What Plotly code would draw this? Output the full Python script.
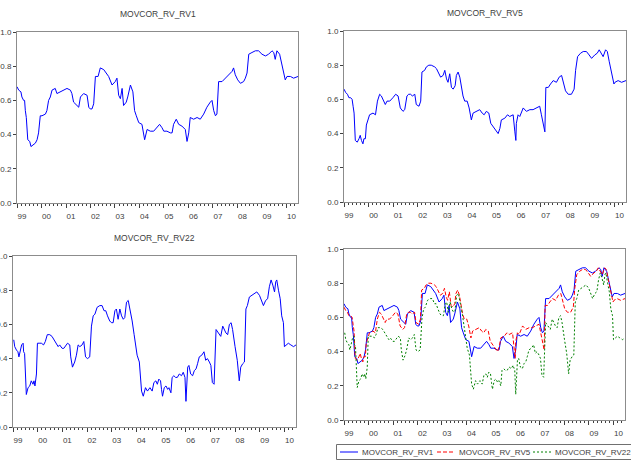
import plotly.graph_objects as go

# ---------------- data (decimal years, correlation values) ----------------
year_labels = ["99", "00", "01", "02", "03", "04", "05", "06", "07", "08", "09", "10"]
year_ticks = list(range(1999, 2011))

x_rv1 = [1999.00, 1999.07, 1999.16, 1999.20, 1999.27, 1999.31, 1999.34, 1999.38, 1999.44, 1999.52,
         1999.57, 1999.65, 1999.75, 1999.82, 1999.88, 1999.95, 2000.02, 2000.16, 2000.22, 2000.29,
         2000.36, 2000.43, 2000.56, 2000.63, 2000.77, 2000.90, 2001.04, 2001.18, 2001.24, 2001.31,
         2001.45, 2001.52, 2001.59, 2001.72, 2001.86, 2001.93, 2001.99, 2002.06, 2002.13, 2002.20,
         2002.31, 2002.40, 2002.54, 2002.67, 2002.74, 2002.88, 2003.01, 2003.08, 2003.15, 2003.22,
         2003.29, 2003.35, 2003.46, 2003.52, 2003.63, 2003.73, 2003.80, 2003.87, 2003.97, 2004.10,
         2004.17, 2004.21, 2004.31, 2004.44, 2004.58, 2004.71, 2004.82, 2004.92, 2004.99, 2005.12,
         2005.26, 2005.33, 2005.39, 2005.50, 2005.60, 2005.73, 2005.87, 2005.94, 2006.01, 2006.07,
         2006.21, 2006.35, 2006.48, 2006.62, 2006.75, 2006.89, 2006.96, 2007.03, 2007.10, 2007.16,
         2007.23, 2007.37, 2007.50, 2007.64, 2007.78, 2007.84, 2007.91, 2008.01, 2008.12, 2008.25,
         2008.32, 2008.39, 2008.46, 2008.59, 2008.73, 2008.86, 2009.00, 2009.14, 2009.27, 2009.41,
         2009.48, 2009.54, 2009.61, 2009.72, 2009.82, 2009.88, 2009.95, 2010.02, 2010.16, 2010.29,
         2010.47]
rv1 = [0.68, 0.66, 0.65, 0.62, 0.60, 0.60, 0.54, 0.50, 0.37, 0.36,
       0.33, 0.34, 0.35, 0.37, 0.41, 0.51, 0.51, 0.52, 0.54, 0.60,
       0.62, 0.66, 0.67, 0.64, 0.65, 0.66, 0.67, 0.66, 0.64, 0.59,
       0.57, 0.56, 0.62, 0.64, 0.63, 0.56, 0.55, 0.55, 0.58, 0.74,
       0.74, 0.79, 0.78, 0.75, 0.74, 0.69, 0.71, 0.73, 0.63, 0.61,
       0.67, 0.57, 0.59, 0.62, 0.69, 0.65, 0.54, 0.51, 0.47, 0.46,
       0.39, 0.37, 0.43, 0.42, 0.42, 0.44, 0.46, 0.44, 0.42, 0.42,
       0.41, 0.41, 0.46, 0.49, 0.46, 0.45, 0.43, 0.36, 0.41, 0.50,
       0.49, 0.50, 0.49, 0.52, 0.56, 0.59, 0.60, 0.54, 0.51, 0.52,
       0.71, 0.71, 0.73, 0.75, 0.77, 0.79, 0.75, 0.72, 0.70, 0.71,
       0.73, 0.76, 0.87, 0.88, 0.89, 0.89, 0.87, 0.86, 0.87, 0.89,
       0.88, 0.84, 0.89, 0.87, 0.81, 0.78, 0.72, 0.74, 0.74, 0.73,
       0.74]

x_rv5 = [1999.00, 1999.07, 1999.14, 1999.20, 1999.27, 1999.33, 1999.37, 1999.41, 1999.46, 1999.54,
         1999.61, 1999.66, 1999.71, 1999.77, 1999.81, 1999.87, 1999.91, 1999.98, 2000.04, 2000.18,
         2000.28, 2000.36, 2000.45, 2000.52, 2000.61, 2000.68, 2000.75, 2000.86, 2000.99, 2001.10,
         2001.20, 2001.29, 2001.40, 2001.47, 2001.56, 2001.63, 2001.71, 2001.78, 2001.88, 2001.94,
         2002.05, 2002.12, 2002.17, 2002.28, 2002.35, 2002.45, 2002.55, 2002.69, 2002.76, 2002.87,
         2002.93, 2003.03, 2003.10, 2003.17, 2003.23, 2003.30, 2003.37, 2003.44, 2003.52, 2003.57,
         2003.64, 2003.71, 2003.78, 2003.84, 2003.91, 2004.01, 2004.09, 2004.18, 2004.25, 2004.39,
         2004.52, 2004.62, 2004.70, 2004.79, 2004.89, 2004.97, 2005.07, 2005.17, 2005.27, 2005.34,
         2005.40, 2005.54, 2005.65, 2005.74, 2005.88, 2005.95, 2005.99, 2006.01, 2006.08, 2006.15,
         2006.29, 2006.42, 2006.56, 2006.69, 2006.83, 2006.96, 2007.03, 2007.10, 2007.17, 2007.21,
         2007.31, 2007.40, 2007.51, 2007.64, 2007.75, 2007.85, 2007.91, 2008.01, 2008.12, 2008.25,
         2008.36, 2008.42, 2008.50, 2008.62, 2008.73, 2008.86, 2008.97, 2009.07, 2009.20, 2009.30,
         2009.38, 2009.48, 2009.54, 2009.64, 2009.71, 2009.79, 2009.88, 2009.98, 2010.02, 2010.15,
         2010.29, 2010.47]
rv5 = [0.66, 0.64, 0.63, 0.61, 0.61, 0.60, 0.56, 0.52, 0.36, 0.35,
       0.37, 0.39, 0.36, 0.34, 0.37, 0.37, 0.45, 0.49, 0.51, 0.52,
       0.51, 0.59, 0.63, 0.62, 0.59, 0.57, 0.59, 0.59, 0.61, 0.63,
       0.62, 0.55, 0.53, 0.54, 0.62, 0.63, 0.63, 0.62, 0.63, 0.57,
       0.56, 0.59, 0.76, 0.77, 0.79, 0.80, 0.80, 0.79, 0.78, 0.74,
       0.73, 0.74, 0.77, 0.72, 0.70, 0.75, 0.67, 0.66, 0.68, 0.74,
       0.76, 0.73, 0.67, 0.62, 0.59, 0.59, 0.55, 0.48, 0.52, 0.53,
       0.54, 0.52, 0.51, 0.53, 0.52, 0.46, 0.44, 0.42, 0.40, 0.43,
       0.48, 0.49, 0.51, 0.50, 0.51, 0.41, 0.36, 0.46, 0.51, 0.50,
       0.55, 0.53, 0.54, 0.54, 0.55, 0.56, 0.51, 0.45, 0.41, 0.67,
       0.67, 0.69, 0.71, 0.70, 0.73, 0.74, 0.70, 0.65, 0.63, 0.63,
       0.66, 0.77, 0.85, 0.87, 0.88, 0.88, 0.86, 0.84, 0.86, 0.87,
       0.89, 0.86, 0.85, 0.89, 0.88, 0.82, 0.76, 0.69, 0.70, 0.71,
       0.70, 0.71]

x_rv22 = [1999.03, 1999.07, 1999.14, 1999.20, 1999.24, 1999.30, 1999.35, 1999.41, 1999.43, 1999.47,
          1999.51, 1999.54, 1999.61, 1999.68, 1999.74, 1999.81, 1999.85, 1999.89, 1999.95, 1999.99,
          2000.06, 2000.15, 2000.24, 2000.31, 2000.39, 2000.49, 2000.58, 2000.66, 2000.73, 2000.83,
          2000.89, 2000.99, 2001.06, 2001.12, 2001.21, 2001.30, 2001.34, 2001.41, 2001.50, 2001.57,
          2001.64, 2001.71, 2001.80, 2001.87, 2001.94, 2002.02, 2002.11, 2002.18, 2002.25, 2002.32,
          2002.41, 2002.52, 2002.61, 2002.69, 2002.76, 2002.83, 2002.92, 2002.99, 2003.06, 2003.13,
          2003.19, 2003.26, 2003.33, 2003.40, 2003.47, 2003.53, 2003.60, 2003.67, 2003.74, 2003.78,
          2003.83, 2003.91, 2003.97, 2004.03, 2004.12, 2004.17, 2004.21, 2004.28, 2004.37, 2004.45,
          2004.55, 2004.64, 2004.71, 2004.79, 2004.85, 2004.91, 2004.98, 2005.02, 2005.06, 2005.13,
          2005.20, 2005.27, 2005.32, 2005.40, 2005.45, 2005.52, 2005.59, 2005.66, 2005.74, 2005.83,
          2005.90, 2005.97, 2006.01, 2006.08, 2006.13, 2006.20, 2006.28, 2006.35, 2006.42, 2006.48,
          2006.55, 2006.65, 2006.74, 2006.81, 2006.88, 2006.96, 2007.02, 2007.08, 2007.15, 2007.23,
          2007.32, 2007.42, 2007.50, 2007.57, 2007.63, 2007.70, 2007.77, 2007.84, 2007.90, 2008.00,
          2008.09, 2008.17, 2008.23, 2008.31, 2008.38, 2008.44, 2008.50, 2008.58, 2008.68, 2008.77,
          2008.88, 2008.99, 2009.08, 2009.15, 2009.24, 2009.32, 2009.39, 2009.46, 2009.53, 2009.60,
          2009.65, 2009.69, 2009.76, 2009.83, 2009.89, 2009.96, 2010.00, 2010.07, 2010.16, 2010.26,
          2010.37, 2010.47]
rv22 = [0.51, 0.47, 0.45, 0.44, 0.41, 0.44, 0.48, 0.49, 0.44, 0.43,
        0.20, 0.19, 0.23, 0.24, 0.27, 0.25, 0.27, 0.24, 0.31, 0.49,
        0.49, 0.49, 0.48, 0.50, 0.54, 0.54, 0.53, 0.51, 0.49, 0.47,
        0.48, 0.46, 0.46, 0.47, 0.49, 0.48, 0.41, 0.35, 0.38, 0.42,
        0.48, 0.47, 0.48, 0.50, 0.41, 0.40, 0.41, 0.59, 0.65, 0.66,
        0.70, 0.71, 0.71, 0.68, 0.68, 0.65, 0.62, 0.61, 0.61, 0.68,
        0.69, 0.63, 0.69, 0.65, 0.63, 0.64, 0.73, 0.74, 0.69, 0.67,
        0.62, 0.54, 0.47, 0.42, 0.38, 0.29, 0.21, 0.18, 0.23, 0.21,
        0.23, 0.21, 0.26, 0.27, 0.25, 0.28, 0.27, 0.22, 0.18, 0.23,
        0.24, 0.22, 0.23, 0.20, 0.29, 0.30, 0.29, 0.29, 0.31, 0.30,
        0.32, 0.29, 0.15, 0.35, 0.36, 0.31, 0.30, 0.33, 0.34, 0.37,
        0.41, 0.42, 0.44, 0.39, 0.40, 0.38, 0.36, 0.26, 0.25, 0.57,
        0.55, 0.53, 0.59, 0.57, 0.55, 0.54, 0.60, 0.61, 0.57, 0.47,
        0.39, 0.27, 0.35, 0.37, 0.38, 0.69, 0.71, 0.76, 0.77, 0.78,
        0.79, 0.77, 0.73, 0.71, 0.74, 0.75, 0.82, 0.86, 0.83, 0.79,
        0.85, 0.86, 0.80, 0.75, 0.65, 0.61, 0.47, 0.48, 0.49, 0.48,
        0.47, 0.48]

names = ["MOVCOR_RV_RV1", "MOVCOR_RV_RV5", "MOVCOR_RV_RV22"]
colors = ["#0000ff", "#ff0000", "#008000"]
dashes = ["solid", "4px,2px", "2px,2px"]

W, H = 631, 462
# panel pixel boxes: (left, right, top, bottom)
boxes = [(17, 298, 32, 203), (344, 626, 31, 202), (13, 296, 256, 427), (344, 625, 249, 420)]

fig = go.Figure()
FONT = "Liberation Sans, Arial, sans-serif"
TXT = "#404040"

series = [(x_rv1, rv1), (x_rv5, rv5), (x_rv22, rv22)]
# single panels
for i in range(3):
    xs, ys = series[i]
    fig.add_trace(go.Scatter(x=xs, y=ys, mode="lines", xaxis=f"x{i+1}", yaxis=f"y{i+1}",
                             line=dict(color=colors[0], width=1), showlegend=False, hoverinfo="skip"))
# combined panel
for i in range(3):
    xs, ys = series[i]
    fig.add_trace(go.Scatter(x=xs, y=ys, mode="lines", xaxis="x4", yaxis="y4", name=names[i],
                             line=dict(color=colors[i], width=1, dash=dashes[i]), showlegend=False,
                             hoverinfo="skip"))

# legend key (framed box under the combined panel), drawn on a pixel-space overlay axis
leg_left, leg_top, leg_bot = 336, 444, 459
key_x = [340, 437, 533]
key_len = 18
ymid = (leg_top + leg_bot) / 2 + 0.5
for i in range(3):
    fig.add_trace(go.Scatter(x=[key_x[i], key_x[i] + key_len], y=[ymid, ymid], mode="lines",
                             xaxis="x5", yaxis="y5", showlegend=False, hoverinfo="skip",
                             line=dict(color=colors[i], width=1, dash=dashes[i])))

axis_color = "#8c8c8c"
tick_font = dict(family=FONT, size=8, color=TXT)
layout = dict(
    width=W, height=H, margin=dict(l=0, r=0, t=0, b=0, autoexpand=False),
    paper_bgcolor="white", plot_bgcolor="rgba(0,0,0,0)", template="none",
    font=dict(family=FONT, size=8, color=TXT),
    showlegend=False,
    xaxis5=dict(domain=[0, 1], range=[0, W], visible=False, anchor="y5", fixedrange=True),
    yaxis5=dict(domain=[0, 1], range=[H, 0], visible=False, anchor="x5", fixedrange=True),
)
annotations = []
shapes = []
for i, (l, r, t, b) in enumerate(boxes):
    k = "" if i == 0 else str(i + 1)
    layout[f"xaxis{k}"] = dict(
        domain=[l / W, r / W], anchor=f"y{i+1}", range=[1999.0, 2010.47],
        tickmode="array", tickvals=year_ticks, ticktext=year_labels,
        ticks="outside", ticklen=4, tickcolor="#404040", tickwidth=1,
        ticklabelshift=5, tickfont=tick_font, ticklabelstandoff=1,
        minor=dict(dtick=1 / 6, tick0=1999, ticks="outside", ticklen=2, tickcolor="#404040"),
        showgrid=False, zeroline=False, showline=True, linecolor=axis_color, linewidth=1,
        mirror=True, automargin=False, fixedrange=True)
    layout[f"yaxis{k}"] = dict(
        domain=[1 - b / H, 1 - t / H], anchor=f"x{i+1}", range=[0, 1],
        tickmode="linear", tick0=0, dtick=0.2, tickformat=".1f",
        ticks="outside", ticklen=3, tickcolor="#404040", tickfont=tick_font,
        showgrid=False, zeroline=False, showline=True, linecolor=axis_color, linewidth=1,
        mirror=True, automargin=False, fixedrange=True)
    if i < 3:
        annotations.append(dict(text=names[i], x=(l + r) / 2 / W, y=1 - (t - 18) / H,
                                xref="paper", yref="paper", xanchor="center", yanchor="middle",
                                showarrow=False, font=dict(family=FONT, size=8.5, color=TXT)))

shapes.append(dict(type="rect", xref="paper", yref="paper", x0=(leg_left + 0.5) / W, x1=660 / W,
                   y0=1 - (leg_bot + 0.5) / H, y1=1 - (leg_top + 0.5) / H,
                   line=dict(color="#707070", width=1), fillcolor="rgba(0,0,0,0)", layer="below"))
for i in range(3):
    annotations.append(dict(text=names[i], x=(key_x[i] + key_len + 2) / W, y=1 - ymid / H,
                            xref="paper", yref="paper", xanchor="left", yanchor="middle",
                            showarrow=False, font=dict(family=FONT, size=8, color=TXT)))

layout["annotations"] = annotations
layout["shapes"] = shapes
fig.update_layout(**layout)
fig.write_html("out.html")
